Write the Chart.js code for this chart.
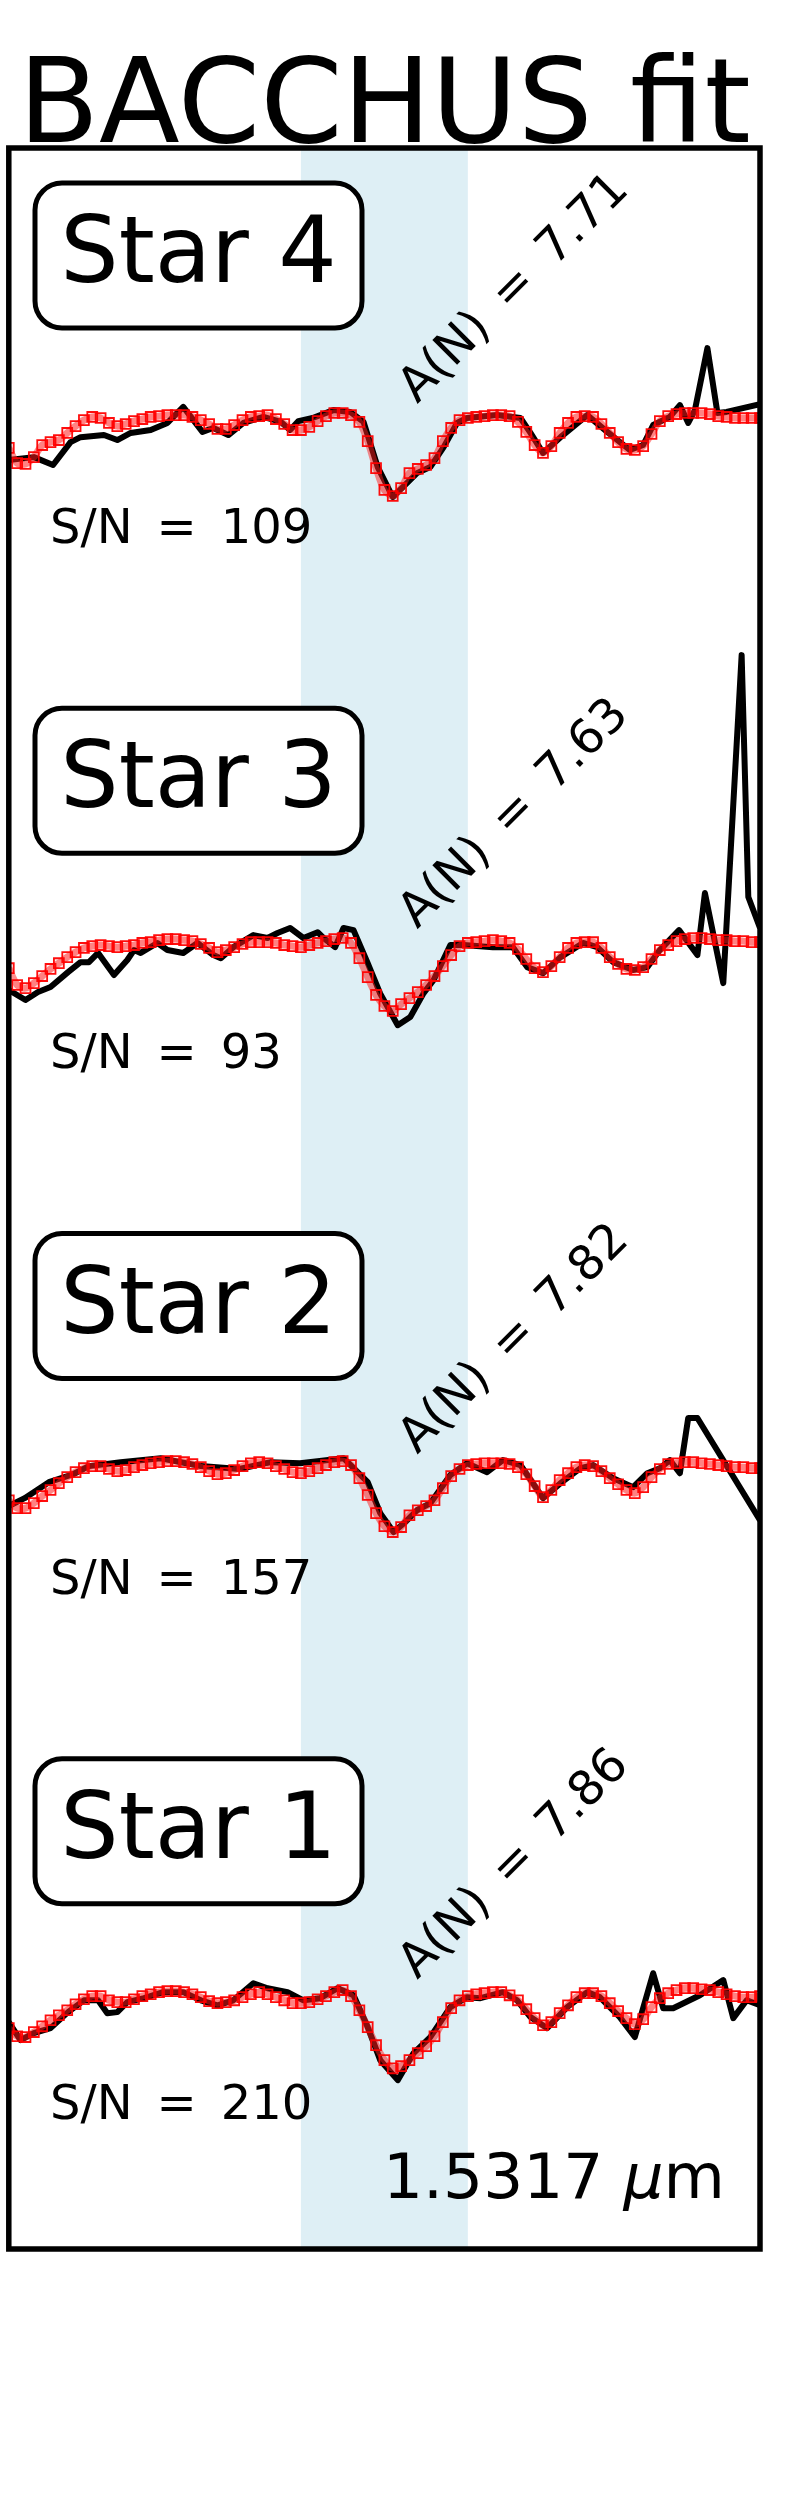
<!DOCTYPE html>
<html>
<head>
<meta charset="utf-8">
<title>BACCHUS fit</title>
<script src="https://cdn.jsdelivr.net/npm/chart.js@4.4.1/dist/chart.umd.min.js"></script>
<style>
  html, body { margin: 0; padding: 0; background: #fff; }
  #wrap { width: 800px; height: 2500px; }
</style>
</head>
<body>
<div id="wrap"><canvas id="myChart" width="800" height="2500"></canvas></div>
<script>
var stars = ['Star 1', 'Star 2', 'Star 3', 'Star 4'];
var offsets = [0, 2, 4, 6];
var abund = ['7.86', '7.82', '7.63', '7.71'];
var snr = ['210', '157', '93', '109'];
var band = [15316.0, 15318.0];
var lineLabel = '1.5317';

// synthetic fit, wavelength in Angstrom
var model_wave = [
    15312.5, 15312.6, 15312.7, 15312.8, 15312.9, 15313.0, 15313.1, 15313.2, 15313.3, 15313.4,
    15313.5, 15313.6, 15313.7, 15313.8, 15313.9, 15314.0, 15314.1, 15314.2, 15314.3, 15314.4,
    15314.5, 15314.6, 15314.7, 15314.8, 15314.9, 15315.0, 15315.1, 15315.2, 15315.3, 15315.4,
    15315.5, 15315.6, 15315.7, 15315.8, 15315.9, 15316.0, 15316.1, 15316.2, 15316.3, 15316.4,
    15316.5, 15316.6, 15316.7, 15316.8, 15316.9, 15317.0, 15317.1, 15317.2, 15317.3, 15317.4,
    15317.5, 15317.6, 15317.7, 15317.8, 15317.9, 15318.0, 15318.1, 15318.2, 15318.3, 15318.4,
    15318.5, 15318.6, 15318.7, 15318.8, 15318.9, 15319.0, 15319.1, 15319.2, 15319.3, 15319.4,
    15319.5, 15319.6, 15319.7, 15319.8, 15319.9, 15320.0, 15320.1, 15320.2, 15320.3, 15320.4,
    15320.5, 15320.6, 15320.7, 15320.8, 15320.9, 15321.0, 15321.1, 15321.2, 15321.3, 15321.4,
    15321.5
];

var model_1 = [
    0.841, 0.810, 0.807, 0.826, 0.848, 0.871, 0.890, 0.909, 0.932, 0.951,
    0.963, 0.963, 0.947, 0.940, 0.940, 0.951, 0.963, 0.970, 0.978, 0.982,
    0.982, 0.978, 0.970, 0.959, 0.944, 0.936, 0.940, 0.947, 0.959, 0.970,
    0.978, 0.970, 0.959, 0.947, 0.936, 0.936, 0.940, 0.951, 0.963, 0.978,
    0.986, 0.963, 0.909, 0.845, 0.776, 0.719, 0.688, 0.696, 0.719, 0.746,
    0.772, 0.810, 0.864, 0.917, 0.947, 0.963, 0.970, 0.974, 0.978, 0.978,
    0.966, 0.947, 0.913, 0.879, 0.852, 0.864, 0.898, 0.928, 0.959, 0.974,
    0.974, 0.963, 0.936, 0.906, 0.879, 0.856, 0.875, 0.921, 0.955, 0.974,
    0.986, 0.993, 0.993, 0.989, 0.986, 0.978, 0.970, 0.963, 0.959, 0.959,
    0.963
];
var model_2 = [
    0.851, 0.821, 0.821, 0.840, 0.867, 0.890, 0.916, 0.939, 0.958, 0.973,
    0.981, 0.981, 0.970, 0.962, 0.966, 0.977, 0.985, 0.992, 0.996, 1.000,
    1.000, 0.996, 0.989, 0.977, 0.962, 0.950, 0.954, 0.966, 0.981, 0.992,
    0.996, 0.992, 0.981, 0.970, 0.958, 0.954, 0.962, 0.973, 0.985, 0.996,
    1.000, 0.985, 0.935, 0.871, 0.802, 0.752, 0.730, 0.749, 0.794, 0.813,
    0.829, 0.851, 0.897, 0.943, 0.970, 0.985, 0.989, 0.992, 0.992, 0.992,
    0.989, 0.977, 0.950, 0.905, 0.863, 0.890, 0.928, 0.954, 0.977, 0.985,
    0.981, 0.962, 0.935, 0.912, 0.890, 0.878, 0.901, 0.939, 0.970, 0.989,
    0.992, 0.996, 0.996, 0.992, 0.989, 0.985, 0.981, 0.977, 0.977, 0.973,
    0.973
];
var model_3 = [
    0.877, 0.813, 0.801, 0.820, 0.847, 0.874, 0.896, 0.919, 0.938, 0.954,
    0.961, 0.965, 0.961, 0.957, 0.961, 0.965, 0.973, 0.976, 0.984, 0.988,
    0.988, 0.984, 0.980, 0.969, 0.954, 0.938, 0.946, 0.957, 0.969, 0.976,
    0.976, 0.976, 0.973, 0.965, 0.961, 0.957, 0.965, 0.973, 0.980, 0.988,
    0.992, 0.973, 0.915, 0.843, 0.775, 0.733, 0.714, 0.740, 0.763, 0.786,
    0.813, 0.847, 0.885, 0.927, 0.961, 0.973, 0.976, 0.980, 0.984, 0.980,
    0.973, 0.950, 0.912, 0.877, 0.862, 0.885, 0.919, 0.954, 0.973, 0.976,
    0.976, 0.954, 0.919, 0.893, 0.874, 0.870, 0.881, 0.912, 0.946, 0.965,
    0.980, 0.988, 0.992, 0.992, 0.988, 0.984, 0.984, 0.980, 0.980, 0.976,
    0.976
];
var model_4 = [
    0.858, 0.800, 0.797, 0.823, 0.869, 0.880, 0.888, 0.915, 0.941, 0.964,
    0.976, 0.972, 0.953, 0.941, 0.949, 0.960, 0.968, 0.976, 0.979, 0.983,
    0.983, 0.983, 0.976, 0.964, 0.949, 0.930, 0.930, 0.945, 0.964, 0.976,
    0.979, 0.983, 0.968, 0.949, 0.926, 0.926, 0.938, 0.960, 0.979, 0.991,
    0.991, 0.983, 0.957, 0.884, 0.781, 0.698, 0.675, 0.705, 0.762, 0.778,
    0.793, 0.819, 0.884, 0.934, 0.964, 0.972, 0.976, 0.979, 0.983, 0.983,
    0.979, 0.957, 0.919, 0.869, 0.839, 0.865, 0.915, 0.953, 0.976, 0.979,
    0.976, 0.949, 0.915, 0.880, 0.854, 0.850, 0.865, 0.911, 0.960, 0.979,
    0.987, 0.991, 0.991, 0.991, 0.987, 0.979, 0.976, 0.972, 0.972, 0.972,
    0.972
];

// observed spectra
var obs_wave_1 = [15312.50, 15312.64, 15312.80, 15313.00, 15313.21, 15313.40, 15313.57, 15313.68, 15313.80, 15313.92,
    15314.12, 15314.35, 15314.59, 15314.80, 15315.00, 15315.19, 15315.43, 15315.60, 15315.84, 15316.03,
    15316.23, 15316.44, 15316.63, 15316.80, 15316.95, 15317.16, 15317.35, 15317.55, 15317.79, 15317.99,
    15318.15, 15318.42, 15318.59, 15318.75, 15318.95, 15319.19, 15319.43, 15319.58, 15319.82, 15320.00,
    15320.22, 15320.34, 15320.46, 15320.78, 15321.06, 15321.18, 15321.34, 15321.50];
var obs_flux_1 = [0.864, 0.795, 0.822, 0.841, 0.902, 0.947, 0.947, 0.898, 0.902, 0.940,
    0.955, 0.978, 0.978, 0.947, 0.928, 0.947, 1.012, 0.993, 0.978, 0.947,
    0.955, 0.993, 0.966, 0.845, 0.719, 0.643, 0.746, 0.807, 0.921, 0.959,
    0.955, 0.978, 0.947, 0.883, 0.841, 0.921, 0.978, 0.959, 0.883, 0.807,
    1.050, 0.917, 0.917, 0.966, 1.024, 0.879, 0.947, 0.928];

var obs_wave_2 = [15312.50, 15312.69, 15312.98, 15313.27, 15313.46, 15313.84, 15314.32, 15314.80, 15315.26, 15315.64,
    15315.99, 15316.51, 15316.80, 15316.95, 15317.11, 15317.25, 15317.39, 15317.55, 15317.79, 15317.99,
    15318.23, 15318.42, 15318.63, 15318.78, 15318.90, 15319.11, 15319.35, 15319.50, 15319.74, 15319.98,
    15320.15, 15320.30, 15320.42, 15320.54, 15320.64, 15320.75, 15321.50];
var obs_flux_2 = [0.829, 0.859, 0.920, 0.950, 0.981, 0.996, 1.011, 0.981, 0.970, 0.996,
    0.992, 1.011, 0.920, 0.802, 0.730, 0.768, 0.813, 0.840, 0.947, 0.992,
    0.958, 1.004, 0.985, 0.916, 0.859, 0.916, 0.973, 0.985, 0.935, 0.901,
    0.954, 0.973, 1.004, 0.954, 1.164, 1.164, 0.775];

var obs_wave_3 = [15312.50, 15312.70, 15312.85, 15313.00, 15313.21, 15313.36, 15313.46, 15313.57, 15313.76, 15313.92,
    15314.00, 15314.08, 15314.28, 15314.40, 15314.59, 15314.76, 15314.95, 15315.04, 15315.19, 15315.43,
    15315.60, 15315.72, 15315.87, 15316.03, 15316.20, 15316.27, 15316.41, 15316.51, 15316.63, 15316.80,
    15316.95, 15317.16, 15317.31, 15317.47, 15317.59, 15317.79, 15317.95, 15318.30, 15318.54, 15318.71,
    15318.90, 15319.11, 15319.38, 15319.55, 15319.74, 15319.98, 15320.15, 15320.30, 15320.53, 15320.75,
    15320.84, 15321.06, 15321.28, 15321.36, 15321.50];
var obs_flux_3 = [0.794, 0.756, 0.786, 0.805, 0.862, 0.900, 0.900, 0.935, 0.851, 0.908,
    0.946, 0.935, 0.973, 0.946, 0.935, 0.973, 0.927, 0.915, 0.957, 1.003,
    0.992, 1.011, 1.030, 0.992, 1.014, 0.992, 0.957, 1.030, 1.022, 0.896,
    0.780, 0.660, 0.691, 0.782, 0.832, 0.965, 0.965, 0.957, 0.957, 0.881,
    0.858, 0.919, 0.973, 0.957, 0.900, 0.870, 0.881, 0.946, 1.022, 0.927,
    1.163, 0.820, 2.069, 1.148, 1.030];

var obs_wave_4 = [15312.50, 15312.80, 15313.03, 15313.24, 15313.36, 15313.64, 15313.80, 15313.96, 15314.20, 15314.40,
    15314.59, 15314.82, 15314.95, 15315.13, 15315.31, 15315.55, 15315.76, 15315.87, 15315.97, 15316.14,
    15316.39, 15316.59, 15316.75, 15316.92, 15317.10, 15317.39, 15317.55, 15317.71, 15317.87, 15317.99,
    15318.35, 15318.63, 15318.75, 15318.90, 15319.11, 15319.43, 15319.67, 15319.94, 15320.10, 15320.22,
    15320.42, 15320.54, 15320.64, 15320.72, 15320.87, 15320.99, 15321.10, 15321.50];
var obs_flux_4 = [0.812, 0.823, 0.793, 0.880, 0.899, 0.907, 0.888, 0.915, 0.926, 0.953,
    1.014, 0.919, 0.934, 0.907, 0.953, 0.976, 0.957, 0.926, 0.960, 0.972,
    1.002, 0.995, 0.957, 0.785, 0.671, 0.762, 0.785, 0.861, 0.953, 0.972,
    0.983, 0.972, 0.915, 0.839, 0.899, 0.983, 0.919, 0.850, 0.869, 0.945,
    0.976, 1.021, 0.953, 1.002, 1.238, 0.991, 0.995, 1.025];

var obs_waves = [obs_wave_1, obs_wave_2, obs_wave_3, obs_wave_4];
var obs_fluxes = [obs_flux_1, obs_flux_2, obs_flux_3, obs_flux_4];
var models = [model_1, model_2, model_3, model_4];

var FONT = '"DejaVu Sans", "Liberation Sans", sans-serif';

function shift(wave, flux, off){
    var out = [];
    for (var i = 0; i < wave.length; i++) {
        out.push({x: wave[i], y: flux[i] + off});
    }
    return out;
}

function roundBox(ctx, x, y, w, h, r){
    ctx.beginPath();
    ctx.moveTo(x + r, y);
    ctx.arcTo(x + w, y, x + w, y + h, r);
    ctx.arcTo(x + w, y + h, x, y + h, r);
    ctx.arcTo(x, y + h, x, y, r);
    ctx.arcTo(x, y, x + w, y, r);
    ctx.closePath();
}

var bandPlugin = {
    id: 'band',
    beforeDatasetsDraw: function(chart){
        var ctx = chart.ctx;
        var area = chart.chartArea;
        var x0 = chart.scales.x.getPixelForValue(band[0]);
        var x1 = chart.scales.x.getPixelForValue(band[1]);
        ctx.save();
        ctx.fillStyle = 'rgba(173,216,230,0.4)';
        ctx.fillRect(x0, area.top, x1 - x0, area.bottom - area.top);
        ctx.restore();
    }
};

var labelPlugin = {
    id: 'labels',
    afterDraw: function(chart){
        var ctx = chart.ctx;
        var area = chart.chartArea;
        var ys = chart.scales.y;
        ctx.save();
        ctx.fillStyle = '#000';
        ctx.strokeStyle = '#000';

        // title
        ctx.font = '118px ' + FONT;
        ctx.textAlign = 'center';
        ctx.textBaseline = 'alphabetic';
        ctx.fillText('BACCHUS fit', (area.left + area.right) / 2, 142);

        for (var i = 0; i < stars.length; i++) {
            var base = ys.getPixelForValue(offsets[i] + 1);

            roundBox(ctx, 35, base - 227.6, 327, 145, 27);
            ctx.fillStyle = '#fff';
            ctx.fill();
            ctx.lineWidth = 5;
            ctx.stroke();

            ctx.fillStyle = '#000';
            ctx.font = '92px ' + FONT;
            ctx.textAlign = 'center';
            ctx.fillText(stars[i], 198.5, base - 128.6);

            ctx.font = '48px ' + FONT;
            ctx.textAlign = 'left';
            ctx.fillText('S/N\u2002=\u2002' + snr[i], 50, base + 132.4);

            ctx.save();
            ctx.translate(515, base - 121.6);
            ctx.rotate(-Math.PI / 4);
            ctx.textAlign = 'center';
            ctx.textBaseline = 'middle';
            ctx.fillText('A(N)\u2002=\u2002' + abund[i], 0, 0);
            ctx.restore();
        }

        // line label
        ctx.font = '63px ' + FONT;
        ctx.textAlign = 'left';
        ctx.textBaseline = 'alphabetic';
        var tx = 383;
        var part = lineLabel + ' ';
        ctx.fillText(part, tx, 2198);
        tx += ctx.measureText(part).width;
        ctx.font = 'italic 63px ' + FONT;
        ctx.fillText('\u03bc', tx, 2198);
        tx += ctx.measureText('\u03bc').width;
        ctx.font = '63px ' + FONT;
        ctx.fillText('m', tx, 2198);

        // frame
        ctx.lineWidth = 5.5;
        ctx.strokeRect(area.left, area.top, area.right - area.left, area.bottom - area.top);
        ctx.restore();
    }
};

var datasets = [];
for (var i = 0; i < stars.length; i++) {
    datasets.push({
        label: stars[i] + ' fit',
        data: shift(model_wave, models[i], offsets[i]),
        showLine: true,
        borderColor: 'rgba(255,30,30,0.5)',
        borderWidth: 7,
        borderJoinStyle: 'round',
        tension: 0.3,
        pointStyle: 'rect',
        pointRadius: 7,
        pointBorderWidth: 1.8,
        pointBorderColor: 'rgba(255,0,0,0.95)',
        pointBackgroundColor: 'rgba(255,0,0,0.08)',
        order: 0
    });
    datasets.push({
        label: stars[i],
        data: shift(obs_waves[i], obs_fluxes[i], offsets[i]),
        borderColor: '#000',
        borderWidth: 6,
        borderJoinStyle: 'round',
        pointRadius: 0,
        tension: 0,
        fill: false,
        order: 1
    });
}

var ctx = document.getElementById('myChart').getContext('2d');
var chart = new Chart(ctx, {
    type: 'line',
    data: { datasets: datasets },
    options: {
        responsive: false,
        animation: false,
        devicePixelRatio: 1,
        layout: { padding: { left: 8, top: 148, right: 40, bottom: 251 } },
        plugins: {
            legend: { display: false },
            tooltip: { enabled: false }
        },
        scales: {
            x: { type: 'linear', min: 15312.5, max: 15321.5, display: false },
            y: { min: 0, max: 8, display: false }
        }
    },
    plugins: [bandPlugin, labelPlugin]
});
</script>
</body>
</html>
